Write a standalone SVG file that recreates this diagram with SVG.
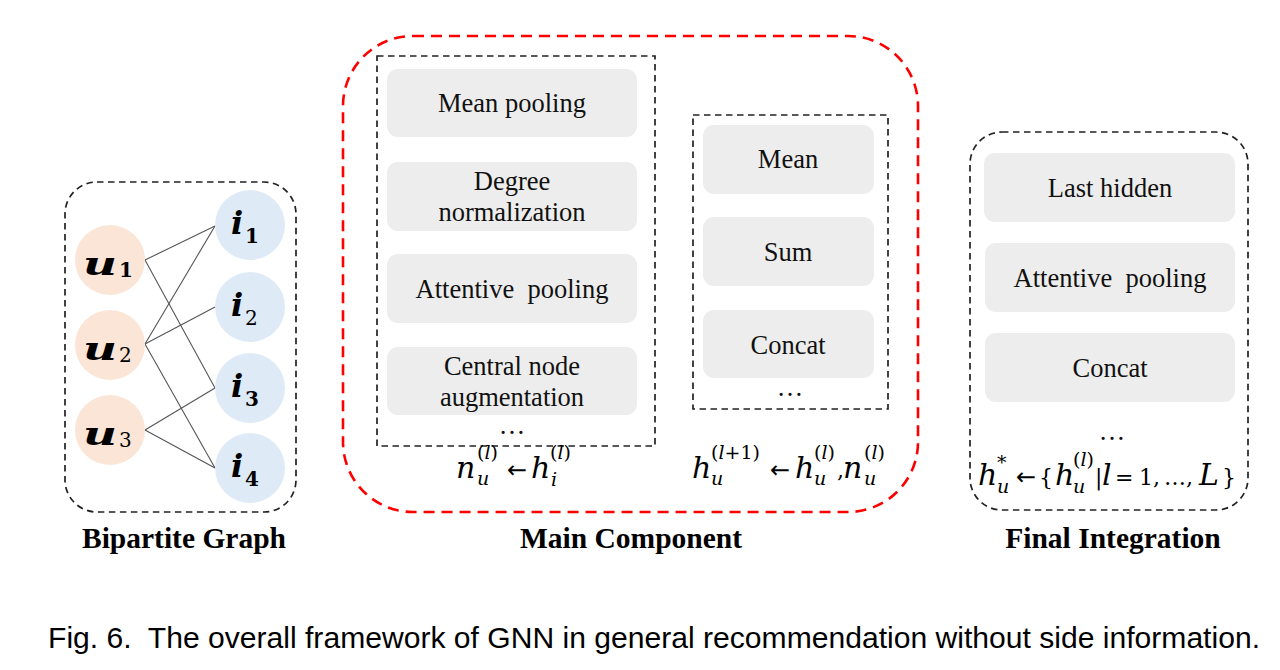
<svg xmlns="http://www.w3.org/2000/svg" width="1280" height="670" viewBox="0 0 1280 670">
<style>
.frame{fill:none;stroke:#222;stroke-width:1.7;stroke-dasharray:6.5 4.5}
.red{fill:none;stroke:#f00;stroke-width:2.6;stroke-dasharray:11 7}
.box{fill:#ededed}
.lbl{font-family:"Liberation Serif","Times New Roman",serif;font-size:26.5px;fill:#111;text-anchor:middle}
.title{font-family:"Liberation Serif","Times New Roman",serif;font-size:29.5px;font-weight:bold;fill:#000;text-anchor:middle}
.user{fill:#fbe5d6}
.item{fill:#deebf7}
.nl{font-family:"DejaVu Serif",serif;font-style:italic;font-weight:bold;font-size:32px;fill:#000}
.ns{font-family:"DejaVu Serif",serif;font-weight:bold;font-size:20px;fill:#000}
.nr{font-family:"DejaVu Serif",serif;font-size:20px;fill:#000}
.f{font-family:"DejaVu Serif",serif;fill:#000}
.m{font-style:italic;font-size:30px}
.mu{font-style:normal;font-size:22px}
.ar{font-family:"DejaVu Sans",sans-serif;font-style:normal;font-size:24px}
.s{font-style:italic;font-size:19px}
.su{font-style:normal;font-size:19px}
.edge{stroke:#555;stroke-width:1.1;fill:none}
</style>

<!-- Bipartite graph -->
<g id="bipartite">
<rect class="frame" x="65" y="182" width="231" height="330" rx="32"/>
<text class="title" x="184" y="548">Bipartite Graph</text>
</g>
<g id="connectors">
<line class="edge" x1="145" y1="260" x2="215" y2="226"/>
<line class="edge" x1="145" y1="260" x2="215" y2="388"/>
<line class="edge" x1="145" y1="344" x2="215" y2="226"/>
<line class="edge" x1="145" y1="344" x2="215" y2="307"/>
<line class="edge" x1="145" y1="344" x2="215" y2="468"/>
<line class="edge" x1="145" y1="430" x2="215" y2="388"/>
<line class="edge" x1="145" y1="430" x2="215" y2="468"/>
</g>
<g id="u1"><circle class="user" cx="110" cy="260" r="35"/><text class="nl" x="83" y="275" textLength="34" lengthAdjust="spacingAndGlyphs">u</text><text class="ns" x="119" y="277">1</text></g>
<g id="u2"><circle class="user" cx="110" cy="345" r="35"/><text class="nl" x="83" y="360" textLength="34" lengthAdjust="spacingAndGlyphs">u</text><text class="nr" x="119" y="362">2</text></g>
<g id="u3"><circle class="user" cx="110" cy="430" r="35"/><text class="nl" x="83" y="445" textLength="34" lengthAdjust="spacingAndGlyphs">u</text><text class="nr" x="119" y="447">3</text></g>
<g id="i1"><circle class="item" cx="250" cy="225" r="35"/><text class="nl" x="231" y="234">i</text><text class="ns" x="245" y="243">1</text></g>
<g id="i2"><circle class="item" cx="250" cy="307" r="35"/><text class="nl" x="231" y="316">i</text><text class="nr" x="245" y="325">2</text></g>
<g id="i3"><circle class="item" cx="250" cy="388" r="35"/><text class="nl" x="231" y="397">i</text><text class="ns" x="245" y="406">3</text></g>
<g id="i4"><circle class="item" cx="250" cy="468" r="35"/><text class="nl" x="231" y="477">i</text><text class="ns" x="245" y="486">4</text></g>

<!-- Main component -->
<g id="main">
<rect class="red" x="343" y="36" width="575" height="476" rx="70"/>
<text class="title" x="631" y="548">Main Component</text>
</g>
<g id="aggregation">
<rect class="frame" x="377" y="56" width="278" height="390"/>
<rect class="box" x="387" y="69" width="250" height="68" rx="11"/>
<text class="lbl" x="512" y="112">Mean pooling</text>
<rect class="box" x="387" y="162" width="250" height="69" rx="11"/>
<text class="lbl" x="512" y="190">Degree</text>
<text class="lbl" x="512" y="221">normalization</text>
<rect class="box" x="387" y="254" width="250" height="69" rx="11"/>
<text class="lbl" x="512" y="298">Attentive&#160; pooling</text>
<rect class="box" x="387" y="347" width="250" height="68" rx="11"/>
<text class="lbl" x="512" y="375">Central node</text>
<text class="lbl" x="512" y="406">augmentation</text>
<text class="lbl" x="512" y="434">…</text>
<text class="f"><tspan class="m" x="456" y="478">n</tspan><tspan class="su" x="477" y="459">(<tspan class="s">l</tspan>)</tspan><tspan class="s" x="477" y="485">u</tspan><tspan class="ar" x="507" y="478">←</tspan><tspan class="m" x="531" y="478">h</tspan><tspan class="su" x="550" y="459">(<tspan class="s">l</tspan>)</tspan><tspan class="s" x="551" y="486">i</tspan></text>
</g>
<g id="update">
<rect class="frame" x="693" y="115" width="195" height="294"/>
<rect class="box" x="703" y="125" width="171" height="69" rx="11"/>
<text class="lbl" x="788" y="168">Mean</text>
<rect class="box" x="703" y="217" width="171" height="69" rx="11"/>
<text class="lbl" x="788" y="261">Sum</text>
<rect class="box" x="703" y="310" width="171" height="68" rx="11"/>
<text class="lbl" x="788" y="354">Concat</text>
<text class="lbl" x="790" y="396">…</text>
<text class="f"><tspan class="m" x="692" y="478">h</tspan><tspan class="su" x="711" y="459">(<tspan class="s">l</tspan>+1)</tspan><tspan class="s" x="711" y="485">u</tspan><tspan class="ar" x="770" y="478">←</tspan><tspan class="m" x="795" y="478">h</tspan><tspan class="su" x="814" y="459">(<tspan class="s">l</tspan>)</tspan><tspan class="s" x="814" y="485">u</tspan><tspan class="mu" x="837" y="478">,</tspan><tspan class="m" x="843" y="478">n</tspan><tspan class="su" x="864" y="459">(<tspan class="s">l</tspan>)</tspan><tspan class="s" x="864" y="485">u</tspan></text>
</g>

<!-- Final integration -->
<g id="final">
<rect class="frame" x="970" y="132" width="278" height="378" rx="32"/>
<rect class="box" x="984" y="153" width="251" height="69" rx="11"/>
<text class="lbl" x="1110" y="197">Last hidden</text>
<rect class="box" x="985" y="243" width="250" height="69" rx="11"/>
<text class="lbl" x="1110" y="287">Attentive&#160; pooling</text>
<rect class="box" x="985" y="333" width="250" height="69" rx="11"/>
<text class="lbl" x="1110" y="377">Concat</text>
<text class="lbl" x="1112" y="440">…</text>
<text class="f"><tspan class="m" x="978" y="485">h</tspan><tspan class="su" x="997" y="469">*</tspan><tspan class="s" x="997" y="493">u</tspan><tspan class="ar" x="1016" y="485">←</tspan><tspan class="mu" x="1039" y="485">{</tspan><tspan class="m" x="1055" y="485">h</tspan><tspan class="su" x="1073" y="466">(<tspan class="s">l</tspan>)</tspan><tspan class="s" x="1073" y="493">u</tspan><tspan class="mu" x="1095" y="485">|</tspan><tspan class="m" x="1102" y="485">l</tspan><tspan class="mu" x="1115" y="485">=</tspan><tspan class="mu" x="1139" y="485">1,</tspan><tspan class="mu" x="1164" y="485">…,</tspan><tspan class="m" x="1199" y="485">L</tspan><tspan class="mu" x="1222" y="485">}</tspan></text>
<text class="title" x="1113" y="548">Final Integration</text>
</g>

<text x="48" y="648" font-family="'Liberation Sans',Arial,sans-serif" font-size="30" fill="#000" textLength="1212" lengthAdjust="spacingAndGlyphs">Fig. 6.&#160; The overall framework of GNN in general recommendation without side information.</text>
</svg>
